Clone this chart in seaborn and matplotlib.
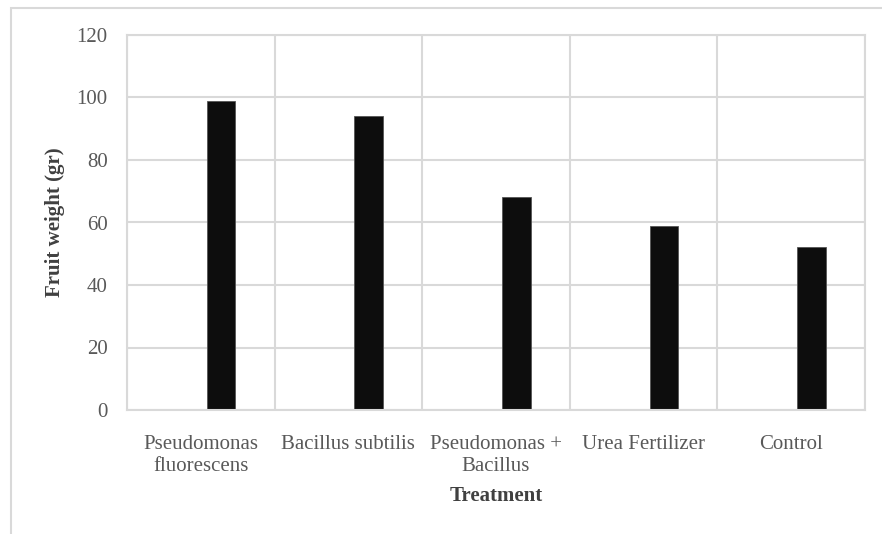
import numpy as np
import pandas as pd
import seaborn as sns
import matplotlib
matplotlib.use("Agg")
from matplotlib import pyplot as plt
from matplotlib.patches import Rectangle

treatments = ["Pseudomonas\nfluorescens", "Bacillus subtilis", "Pseudomonas +\nBacillus",
              "Urea Fertilizer", "Control"]
fruit_weight = [99, 94, 68, 59, 52]
# the source chart had an empty first series, which pushes the bars right
empty_series = [0, 0, 0, 0, 0]

df = pd.DataFrame({
    "Treatment": treatments * 2,
    "Fruit weight (gr)": empty_series + fruit_weight,
    "series": ["s1"] * len(treatments) + ["s2"] * len(treatments),
})

sns.set_style("white")
plt.rcParams["font.family"] = ["Liberation Serif", "DejaVu Serif"]

GRID = "#d9d9d9"
TXT = "#595959"
FS = 15

fig = plt.figure(figsize=(8.82, 5.34), dpi=100)
ax = fig.add_axes([127 / 882, 1 - 410 / 534, (865 - 127) / 882, (410 - 35) / 534])

sns.barplot(df, x="Treatment", y="Fruit weight (gr)", hue="series",
            hue_order=["s1", "s2"], palette=["#0d0d0d", "#0d0d0d"],
            width=0.549, gap=0.296, edgecolor="#555555", linewidth=0.6,
            legend=False, ax=ax)
for p in ax.patches:
    if p.get_height() == 0:
        p.set_visible(False)

ax.set_ylim(0, 120)
ax.set_yticks(np.arange(0, 121, 20))
ax.set_xlim(-0.5, len(treatments) - 0.5)
ax.set_xticks(np.arange(-0.5, len(treatments), 1.0), minor=True)
ax.yaxis.grid(True, color=GRID, lw=1.5)
ax.xaxis.grid(True, which="minor", color=GRID, lw=1.5)
ax.xaxis.grid(False, which="major")
ax.set_axisbelow(True)
for s in ax.spines.values():
    s.set_color(GRID)
    s.set_linewidth(1.5)

ax.tick_params(axis="both", which="both", length=0, labelsize=FS, labelcolor=TXT)
ax.tick_params(axis="y", pad=14)
ax.tick_params(axis="x", pad=18)
for t in ax.get_xticklabels():
    t.set_linespacing(1.22)

ax.set_xlabel("Treatment", fontsize=FS, fontweight="bold", color="#404040", labelpad=7)
ax.set_ylabel("Fruit weight (gr)", fontsize=FS, fontweight="bold", color="#404040", labelpad=8)

# outer chart frame, cropped at right and bottom in the source
fig.patches.append(Rectangle((11 / 882, -0.1), 1.2, 0.1 + 1 - 8 / 534,
                             transform=fig.transFigure, fill=False,
                             edgecolor=GRID, lw=1.5))

fig.savefig("out.png", dpi=100, facecolor="white")
